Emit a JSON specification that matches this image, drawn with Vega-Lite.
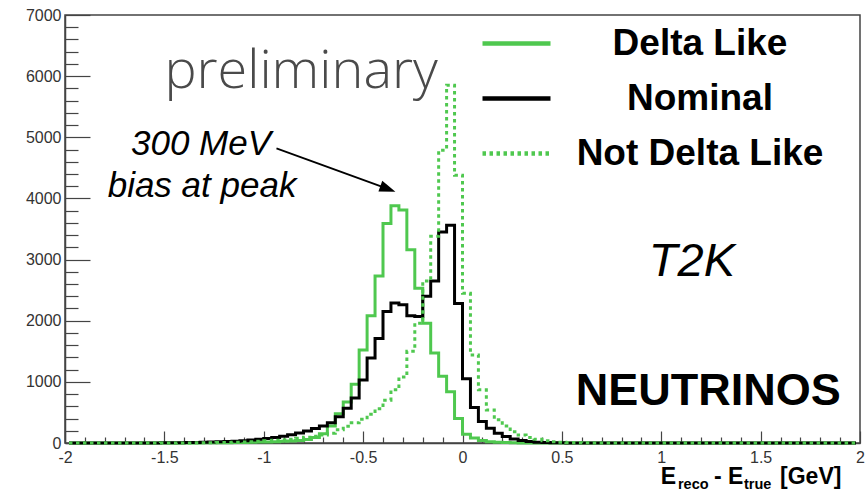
{
  "$schema": "https://vega.github.io/schema/vega-lite/v6.json",
  "width": 795,
  "height": 428,
  "autosize": "none",
  "padding": {"left": 65, "top": 15, "right": 7, "bottom": 52},
  "background": "white",
  "config": {
    "view": {"stroke": "#444", "strokeWidth": 1.5},
    "font": "Liberation Sans",
    "axis": {"labelOverlap": false, "labelFlush": false, "labelBound": false, "grid": false}
  },
  "resolve": {"axis": {"x": "independent", "y": "independent"}},
  "datasets": {
    "hist": [
      {"x": -1.98, "Delta Like": 0, "Nominal": 0, "Not Delta Like": 0},
      {"x": -1.94, "Delta Like": 0, "Nominal": 0, "Not Delta Like": 0},
      {"x": -1.90, "Delta Like": 0, "Nominal": 0, "Not Delta Like": 0},
      {"x": -1.86, "Delta Like": 0, "Nominal": 0, "Not Delta Like": 0},
      {"x": -1.82, "Delta Like": 0, "Nominal": 0, "Not Delta Like": 0},
      {"x": -1.78, "Delta Like": 0, "Nominal": 0, "Not Delta Like": 0},
      {"x": -1.74, "Delta Like": 0, "Nominal": 0, "Not Delta Like": 0},
      {"x": -1.70, "Delta Like": 0, "Nominal": 0, "Not Delta Like": 0},
      {"x": -1.66, "Delta Like": 0, "Nominal": 0, "Not Delta Like": 0},
      {"x": -1.62, "Delta Like": 0, "Nominal": 1, "Not Delta Like": 0},
      {"x": -1.58, "Delta Like": 0, "Nominal": 2, "Not Delta Like": 0},
      {"x": -1.54, "Delta Like": 0, "Nominal": 2, "Not Delta Like": 0},
      {"x": -1.50, "Delta Like": 0, "Nominal": 3, "Not Delta Like": 1},
      {"x": -1.46, "Delta Like": 0, "Nominal": 4, "Not Delta Like": 1},
      {"x": -1.42, "Delta Like": 1, "Nominal": 5, "Not Delta Like": 2},
      {"x": -1.38, "Delta Like": 1, "Nominal": 7, "Not Delta Like": 2},
      {"x": -1.34, "Delta Like": 2, "Nominal": 9, "Not Delta Like": 3},
      {"x": -1.30, "Delta Like": 3, "Nominal": 12, "Not Delta Like": 4},
      {"x": -1.26, "Delta Like": 4, "Nominal": 15, "Not Delta Like": 6},
      {"x": -1.22, "Delta Like": 5, "Nominal": 19, "Not Delta Like": 8},
      {"x": -1.18, "Delta Like": 6, "Nominal": 24, "Not Delta Like": 10},
      {"x": -1.14, "Delta Like": 8, "Nominal": 30, "Not Delta Like": 13},
      {"x": -1.10, "Delta Like": 10, "Nominal": 38, "Not Delta Like": 17},
      {"x": -1.06, "Delta Like": 12, "Nominal": 48, "Not Delta Like": 22},
      {"x": -1.02, "Delta Like": 15, "Nominal": 60, "Not Delta Like": 28},
      {"x": -0.98, "Delta Like": 18, "Nominal": 74, "Not Delta Like": 35},
      {"x": -0.94, "Delta Like": 22, "Nominal": 90, "Not Delta Like": 43},
      {"x": -0.90, "Delta Like": 27, "Nominal": 110, "Not Delta Like": 52},
      {"x": -0.86, "Delta Like": 33, "Nominal": 133, "Not Delta Like": 63},
      {"x": -0.82, "Delta Like": 42, "Nominal": 162, "Not Delta Like": 77},
      {"x": -0.78, "Delta Like": 58, "Nominal": 198, "Not Delta Like": 94},
      {"x": -0.74, "Delta Like": 88, "Nominal": 238, "Not Delta Like": 112},
      {"x": -0.70, "Delta Like": 150, "Nominal": 280, "Not Delta Like": 132},
      {"x": -0.66, "Delta Like": 280, "Nominal": 330, "Not Delta Like": 160},
      {"x": -0.62, "Delta Like": 480, "Nominal": 430, "Not Delta Like": 215},
      {"x": -0.58, "Delta Like": 670, "Nominal": 570, "Not Delta Like": 272},
      {"x": -0.54, "Delta Like": 960, "Nominal": 735, "Not Delta Like": 330},
      {"x": -0.50, "Delta Like": 1520, "Nominal": 1030, "Not Delta Like": 390},
      {"x": -0.46, "Delta Like": 2080, "Nominal": 1390, "Not Delta Like": 470},
      {"x": -0.42, "Delta Like": 2730, "Nominal": 1710, "Not Delta Like": 560},
      {"x": -0.38, "Delta Like": 3590, "Nominal": 2150, "Not Delta Like": 700},
      {"x": -0.34, "Delta Like": 3880, "Nominal": 2290, "Not Delta Like": 870},
      {"x": -0.30, "Delta Like": 3810, "Nominal": 2260, "Not Delta Like": 1080},
      {"x": -0.26, "Delta Like": 3160, "Nominal": 2080, "Not Delta Like": 1500},
      {"x": -0.22, "Delta Like": 2530, "Nominal": 2070, "Not Delta Like": 1960},
      {"x": -0.18, "Delta Like": 1960, "Nominal": 2400, "Not Delta Like": 2650},
      {"x": -0.14, "Delta Like": 1470, "Nominal": 2650, "Not Delta Like": 3380},
      {"x": -0.10, "Delta Like": 1090, "Nominal": 3450, "Not Delta Like": 4790},
      {"x": -0.06, "Delta Like": 840, "Nominal": 3560, "Not Delta Like": 5850},
      {"x": -0.02, "Delta Like": 400, "Nominal": 2280, "Not Delta Like": 4380},
      {"x": 0.02, "Delta Like": 145, "Nominal": 1050, "Not Delta Like": 2450},
      {"x": 0.06, "Delta Like": 80, "Nominal": 580, "Not Delta Like": 1440},
      {"x": 0.10, "Delta Like": 40, "Nominal": 350, "Not Delta Like": 870},
      {"x": 0.14, "Delta Like": 22, "Nominal": 240, "Not Delta Like": 540},
      {"x": 0.18, "Delta Like": 12, "Nominal": 160, "Not Delta Like": 380},
      {"x": 0.22, "Delta Like": 7, "Nominal": 105, "Not Delta Like": 280},
      {"x": 0.26, "Delta Like": 4, "Nominal": 65, "Not Delta Like": 185},
      {"x": 0.30, "Delta Like": 2, "Nominal": 40, "Not Delta Like": 130},
      {"x": 0.34, "Delta Like": 1, "Nominal": 24, "Not Delta Like": 92},
      {"x": 0.38, "Delta Like": 1, "Nominal": 14, "Not Delta Like": 60},
      {"x": 0.42, "Delta Like": 0, "Nominal": 8, "Not Delta Like": 38},
      {"x": 0.46, "Delta Like": 0, "Nominal": 5, "Not Delta Like": 22},
      {"x": 0.50, "Delta Like": 0, "Nominal": 3, "Not Delta Like": 14},
      {"x": 0.54, "Delta Like": 0, "Nominal": 2, "Not Delta Like": 8},
      {"x": 0.58, "Delta Like": 0, "Nominal": 1, "Not Delta Like": 5},
      {"x": 0.62, "Delta Like": 0, "Nominal": 1, "Not Delta Like": 3},
      {"x": 0.66, "Delta Like": 0, "Nominal": 0, "Not Delta Like": 2},
      {"x": 0.70, "Delta Like": 0, "Nominal": 0, "Not Delta Like": 1},
      {"x": 0.74, "Delta Like": 0, "Nominal": 0, "Not Delta Like": 0},
      {"x": 0.78, "Delta Like": 0, "Nominal": 0, "Not Delta Like": 0},
      {"x": 0.82, "Delta Like": 0, "Nominal": 0, "Not Delta Like": 0},
      {"x": 0.86, "Delta Like": 0, "Nominal": 0, "Not Delta Like": 0},
      {"x": 0.90, "Delta Like": 0, "Nominal": 0, "Not Delta Like": 0},
      {"x": 0.94, "Delta Like": 0, "Nominal": 0, "Not Delta Like": 0},
      {"x": 0.98, "Delta Like": 0, "Nominal": 0, "Not Delta Like": 0},
      {"x": 1.02, "Delta Like": 0, "Nominal": 0, "Not Delta Like": 0},
      {"x": 1.06, "Delta Like": 0, "Nominal": 0, "Not Delta Like": 0},
      {"x": 1.10, "Delta Like": 0, "Nominal": 0, "Not Delta Like": 0},
      {"x": 1.14, "Delta Like": 0, "Nominal": 0, "Not Delta Like": 0},
      {"x": 1.18, "Delta Like": 0, "Nominal": 0, "Not Delta Like": 0},
      {"x": 1.22, "Delta Like": 0, "Nominal": 0, "Not Delta Like": 0},
      {"x": 1.26, "Delta Like": 0, "Nominal": 0, "Not Delta Like": 0},
      {"x": 1.30, "Delta Like": 0, "Nominal": 0, "Not Delta Like": 0},
      {"x": 1.34, "Delta Like": 0, "Nominal": 0, "Not Delta Like": 0},
      {"x": 1.38, "Delta Like": 0, "Nominal": 0, "Not Delta Like": 0},
      {"x": 1.42, "Delta Like": 0, "Nominal": 0, "Not Delta Like": 0},
      {"x": 1.46, "Delta Like": 0, "Nominal": 0, "Not Delta Like": 0},
      {"x": 1.50, "Delta Like": 0, "Nominal": 0, "Not Delta Like": 0},
      {"x": 1.54, "Delta Like": 0, "Nominal": 0, "Not Delta Like": 0},
      {"x": 1.58, "Delta Like": 0, "Nominal": 0, "Not Delta Like": 0},
      {"x": 1.62, "Delta Like": 0, "Nominal": 0, "Not Delta Like": 0},
      {"x": 1.66, "Delta Like": 0, "Nominal": 0, "Not Delta Like": 0},
      {"x": 1.70, "Delta Like": 0, "Nominal": 0, "Not Delta Like": 0},
      {"x": 1.74, "Delta Like": 0, "Nominal": 0, "Not Delta Like": 0},
      {"x": 1.78, "Delta Like": 0, "Nominal": 0, "Not Delta Like": 0},
      {"x": 1.82, "Delta Like": 0, "Nominal": 0, "Not Delta Like": 0},
      {"x": 1.86, "Delta Like": 0, "Nominal": 0, "Not Delta Like": 0},
      {"x": 1.90, "Delta Like": 0, "Nominal": 0, "Not Delta Like": 0},
      {"x": 1.94, "Delta Like": 0, "Nominal": 0, "Not Delta Like": 0},
      {"x": 1.98, "Delta Like": 0, "Nominal": 0, "Not Delta Like": 0}
    ]
  },
  "layer": [
    {
      "data": {"name": "hist"},
      "transform": [{"fold": ["Delta Like", "Nominal", "Not Delta Like"], "as": ["series", "count"]}],
      "mark": {"type": "line", "interpolate": "step", "strokeWidth": 3},
      "encoding": {
        "x": {
          "field": "x", "type": "quantitative",
          "scale": {"domain": [-2, 2], "nice": false, "zero": false},
          "axis": {
            "title": null, "grid": false,
            "values": [-2, -1.9, -1.8, -1.7, -1.6, -1.5, -1.4, -1.3, -1.2, -1.1, -1, -0.9, -0.8, -0.7, -0.6, -0.5, -0.4, -0.3, -0.2, -0.1, 0, 0.1, 0.2, 0.3, 0.4, 0.5, 0.6, 0.7, 0.8, 0.9, 1, 1.1, 1.2, 1.3, 1.4, 1.5, 1.6, 1.7, 1.8, 1.9, 2],
            "labelExpr": "abs(datum.value*2 - round(datum.value*2)) < 0.001 ? '' + datum.value : ''",
            "tickSize": {"condition": {"test": "abs(datum.value*2 - round(datum.value*2)) < 0.001", "value": -12}, "value": -6},
            "labelFont": "Liberation Sans", "labelFontSize": 16, "labelColor": "#333",
            "labelPadding": 18, "labelFlush": false, "labelOverlap": false,
            "tickColor": "#444", "tickWidth": 1.2, "domainColor": "#444", "domainWidth": 1.5
          }
        },
        "y": {
          "field": "count", "type": "quantitative",
          "scale": {"domain": [0, 7000], "nice": false},
          "axis": {
            "title": null, "grid": false,
            "values": [0, 200, 400, 600, 800, 1000, 1200, 1400, 1600, 1800, 2000, 2200, 2400, 2600, 2800, 3000, 3200, 3400, 3600, 3800, 4000, 4200, 4400, 4600, 4800, 5000, 5200, 5400, 5600, 5800, 6000, 6200, 6400, 6600, 6800, 7000],
            "format": "d",
            "labelExpr": "datum.value % 1000 === 0 ? datum.label : ''",
            "tickSize": {"condition": {"test": "datum.value % 1000 === 0", "value": -25}, "value": -13},
            "labelFont": "Liberation Sans", "labelFontSize": 16, "labelColor": "#333",
            "labelPadding": 29, "labelFlush": false, "labelOverlap": false,
            "tickColor": "#444", "tickWidth": 1.2, "domainColor": "#444", "domainWidth": 1.5
          }
        },
        "color": {
          "field": "series", "type": "nominal",
          "scale": {"domain": ["Delta Like", "Nominal", "Not Delta Like"], "range": ["#4fc84f", "#000000", "#4fc84f"]},
          "legend": {
            "title": null, "orient": "none", "legendX": 415, "legendY": -8, "padding": 0,
            "symbolType": "stroke", "symbolSize": 4624, "symbolStrokeWidth": 4.5,
            "labelFont": "Liberation Sans", "labelFontSize": 37, "labelFontWeight": "bold", "labelColor": "#000",
            "labelAlign": "center", "labelOffset": 147, "labelLimit": 600, "rowPadding": -10
          }
        },
        "strokeDash": {
          "field": "series", "type": "nominal",
          "scale": {"domain": ["Delta Like", "Nominal", "Not Delta Like"], "range": [[1, 0], [1, 0], [3.5, 3.5]]},
          "legend": {
            "title": null, "orient": "none", "legendX": 415, "legendY": -8, "padding": 0,
            "symbolType": "stroke", "symbolSize": 4624, "symbolStrokeWidth": 4.5,
            "labelFont": "Liberation Sans", "labelFontSize": 37, "labelFontWeight": "bold", "labelColor": "#000",
            "labelAlign": "center", "labelOffset": 147, "labelLimit": 600, "rowPadding": -10
          }
        }
      }
    },
    {
      "data": {"values": [{}]},
      "mark": {"type": "text", "font": "Open Sans", "fontWeight": 300, "fontSize": 54, "color": "#4a4a4a", "align": "left", "baseline": "alphabetic"},
      "encoding": {"x": {"datum": -1.5, "axis": null}, "y": {"datum": 5806, "axis": null}, "text": {"value": "preliminary"}}
    },
    {
      "data": {"values": [{}]},
      "mark": {"type": "text", "font": "Liberation Sans", "fontStyle": "italic", "fontSize": 35, "color": "#000", "align": "center", "baseline": "alphabetic"},
      "encoding": {"x": {"datum": -1.3155, "axis": null}, "y": {"datum": 4710, "axis": null}, "text": {"value": "300 MeV"}}
    },
    {
      "data": {"values": [{}]},
      "mark": {"type": "text", "font": "Liberation Sans", "fontStyle": "italic", "fontSize": 35, "color": "#000", "align": "center", "baseline": "alphabetic"},
      "encoding": {"x": {"datum": -1.3105, "axis": null}, "y": {"datum": 4023, "axis": null}, "text": {"value": "bias at peak"}}
    },
    {
      "data": {"values": [{}]},
      "mark": {"type": "rule", "strokeWidth": 1.8, "color": "#000"},
      "encoding": {"x": {"datum": -0.936, "axis": null}, "y": {"datum": 4820, "axis": null}, "x2": {"datum": -0.3755}, "y2": {"datum": 4156}}
    },
    {
      "data": {"values": [{}]},
      "mark": {"type": "point", "shape": "M-1,-0.7L1,0L-1,0.7Z", "filled": true, "color": "#000", "opacity": 1, "size": 256, "angle": 20.2},
      "encoding": {"x": {"datum": -0.3755, "axis": null}, "y": {"datum": 4156, "axis": null}}
    },
    {
      "data": {"values": [{}]},
      "mark": {"type": "text", "font": "Liberation Sans", "fontStyle": "italic", "fontSize": 47, "color": "#000", "align": "left", "baseline": "alphabetic"},
      "encoding": {"x": {"datum": 0.9375, "axis": null}, "y": {"datum": 2731, "axis": null}, "text": {"value": "T2K"}}
    },
    {
      "data": {"values": [{}]},
      "mark": {"type": "text", "font": "Liberation Sans", "fontWeight": "bold", "fontSize": 45, "color": "#000", "align": "left", "baseline": "alphabetic"},
      "encoding": {"x": {"datum": 0.5696, "axis": null}, "y": {"datum": 621, "axis": null}, "text": {"value": "NEUTRINOS"}}
    },
    {
      "data": {"values": [{}]},
      "mark": {"type": "text", "font": "Liberation Sans", "fontWeight": "bold", "fontSize": 23, "color": "#000", "align": "left", "baseline": "alphabetic"},
      "encoding": {"x": {"datum": 0.998, "axis": null}, "y": {"datum": -671, "axis": null}, "text": {"value": "E"}}
    },
    {
      "data": {"values": [{}]},
      "mark": {"type": "text", "font": "Liberation Sans", "fontWeight": "bold", "fontSize": 14.5, "color": "#000", "align": "left", "baseline": "alphabetic"},
      "encoding": {"x": {"datum": 1.084, "axis": null}, "y": {"datum": -760, "axis": null}, "text": {"value": "reco"}}
    },
    {
      "data": {"values": [{}]},
      "mark": {"type": "text", "font": "Liberation Sans", "fontWeight": "bold", "fontSize": 23, "color": "#000", "align": "left", "baseline": "alphabetic"},
      "encoding": {"x": {"datum": 1.2651, "axis": null}, "y": {"datum": -671, "axis": null}, "text": {"value": "- E"}}
    },
    {
      "data": {"values": [{}]},
      "mark": {"type": "text", "font": "Liberation Sans", "fontWeight": "bold", "fontSize": 14.5, "color": "#000", "align": "left", "baseline": "alphabetic"},
      "encoding": {"x": {"datum": 1.4163, "axis": null}, "y": {"datum": -760, "axis": null}, "text": {"value": "true"}}
    },
    {
      "data": {"values": [{}]},
      "mark": {"type": "text", "font": "Liberation Sans", "fontWeight": "bold", "fontSize": 23, "color": "#000", "align": "left", "baseline": "alphabetic"},
      "encoding": {"x": {"datum": 1.5978, "axis": null}, "y": {"datum": -671, "axis": null}, "text": {"value": "[GeV]"}}
    }
  ]
}
